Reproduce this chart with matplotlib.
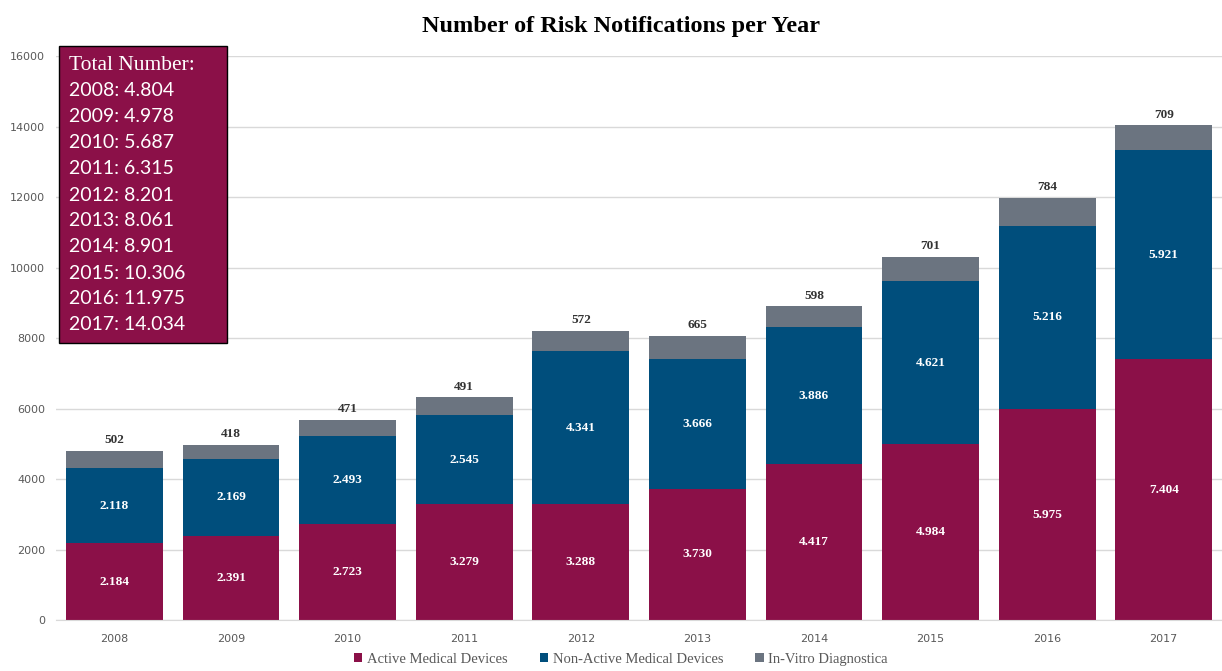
import matplotlib.pyplot as plt
import numpy as np
from matplotlib.patches import Rectangle

years = ['2008', '2009', '2010', '2011', '2012', '2013', '2014', '2015', '2016', '2017']
active = [2184, 2391, 2723, 3279, 3288, 3730, 4417, 4984, 5975, 7404]
non_active = [2118, 2169, 2493, 2545, 4341, 3666, 3886, 4621, 5216, 5921]
in_vitro = [502, 418, 471, 491, 572, 665, 598, 701, 784, 709]
totals_text = ['4.804', '4.978', '5.687', '6.315', '8.201', '8.061', '8.901', '10.306', '11.975', '14.034']

c_active = '#8b1048'
c_non = '#004e7c'
c_vitro = '#6b7480'
serif = ['Liberation Serif', 'DejaVu Serif']

def fmt(v):
    return f'{v/1000:.3f}'

fig = plt.figure(figsize=(12.22, 6.71), dpi=100)
ax = fig.add_axes([0.046, 0.076, 0.954, 0.8405])

x = np.arange(len(years))
w = 0.83
a = np.array(active)
n = np.array(non_active)
v = np.array(in_vitro)
ax.bar(x, a, w, color=c_active, label='Active Medical Devices', zorder=2)
ax.bar(x, n, w, bottom=a, color=c_non, label='Non-Active Medical Devices', zorder=2)
ax.bar(x, v, w, bottom=a + n, color=c_vitro, label='In-Vitro Diagnostica', zorder=2)

for i in range(len(years)):
    ax.text(x[i], a[i] / 2, fmt(a[i]), ha='center', va='center', color='white',
            fontsize=9.5, fontweight='bold', family=serif, zorder=3)
    ax.text(x[i], a[i] + n[i] / 2, fmt(n[i]), ha='center', va='center', color='white',
            fontsize=9.5, fontweight='bold', family=serif, zorder=3)
    ax.text(x[i], a[i] + n[i] + v[i] + 130, str(v[i]), ha='center', va='bottom', color='#333333',
            fontsize=9.5, fontweight='bold', family=serif, zorder=3)

ax.set_xlim(-0.5, len(years) - 0.5)
ax.set_ylim(0, 16000)
ax.set_yticks(np.arange(0, 16001, 2000))
ax.set_xticks(x)
ax.set_xticklabels(years)
ax.tick_params(axis='both', length=0, labelsize=8, labelcolor='#595959')
ax.tick_params(axis='x', pad=10)
ax.tick_params(axis='y', pad=8)
ax.grid(axis='y', color='#d9d9d9', linewidth=1, zorder=0)
for s in ['top', 'right', 'left']:
    ax.spines[s].set_visible(False)
ax.spines['bottom'].set_color('#d9d9d9')

fig.text(0.508, 0.96, 'Number of Risk Notifications per Year', ha='center', va='center',
         fontsize=17.5, fontweight='bold', family=serif, color='black')

# total number box
box = Rectangle((59 / 1222, 1 - 343 / 671), 168 / 1222, 297 / 671, transform=fig.transFigure,
                facecolor=c_active, edgecolor='black', linewidth=1, zorder=5)
fig.patches.append(box)
fig.text(69 / 1222, 1 - 66 / 671, 'Total Number:', ha='left', va='center', color='white',
         fontsize=15.5, family=serif, zorder=6)
for i, (yr, t) in enumerate(zip(years, totals_text)):
    fig.text(69 / 1222, 1 - (91 + i * 26) / 671, f'{yr}: {t}', ha='left', va='center',
             color='white', fontsize=14, family=['Lato', 'DejaVu Sans'], zorder=6)

leg = fig.legend(loc='lower center', bbox_to_anchor=(0.508, -0.012), ncol=3, frameon=False,
                 handlelength=0.6, handleheight=0.6, handletextpad=0.3, columnspacing=2.2,
                 prop={'family': serif, 'size': 10.5})
for t in leg.get_texts():
    t.set_color('#595959')

fig.savefig('out.png', dpi=100)
